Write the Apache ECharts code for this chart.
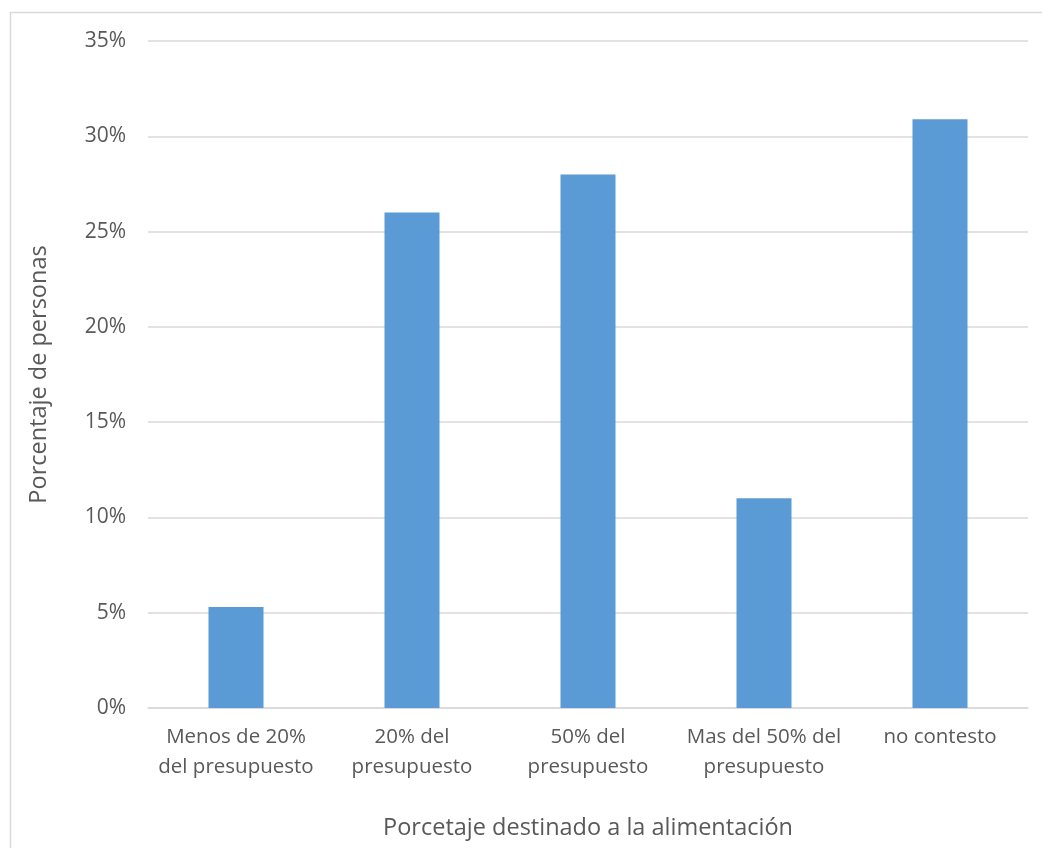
<!DOCTYPE html>
<html>
<head>
<meta charset="utf-8">
<script src="https://cdn.jsdelivr.net/npm/echarts@6/dist/echarts.min.js"></script>
<style>
  html, body { margin: 0; padding: 0; background: #fff; }
  #chart { width: 1042px; height: 848px; }
</style>
</head>
<body>
<div id="chart"></div>
<script>
// Share of respondents by portion of budget spent on food
const categories = [
  'Menos de 20%\ndel presupuesto',
  '20% del\npresupuesto',
  '50% del\npresupuesto',
  'Mas del 50% del\npresupuesto',
  'no contesto'
];
const shares = [5.3, 26.0, 28.0, 11.0, 30.9];
const yTicks = [0, 5, 10, 15, 20, 25, 30, 35];

const textColor = '#595959';
const fontFamily = '"Open Sans", "Liberation Sans", sans-serif';

const chart = echarts.init(document.getElementById('chart'), null, { renderer: 'canvas' });
chart.setOption({
  backgroundColor: '#ffffff',
  animation: false,
  graphic: [{
    type: 'rect',
    shape: { x: 10.5, y: 12.5, width: 1100, height: 900 },
    style: { fill: 'none', stroke: '#d9d9d9', lineWidth: 1.5 },
    silent: true
  }],
  grid: { left: 148, right: 14, top: 41, bottom: 140 },
  xAxis: {
    type: 'category',
    data: categories,
    name: 'Porcetaje destinado a la alimentación',
    nameLocation: 'middle',
    nameGap: 108,
    nameTextStyle: { color: textColor, fontSize: 23.5, fontFamily },
    axisLine: { show: true, lineStyle: { color: '#d9d9d9', width: 1.5 } },
    axisTick: { show: false },
    axisLabel: {
      color: textColor, fontSize: 20.5, fontFamily, lineHeight: 30, margin: 14,
      interval: 0, hideOverlap: false
    }
  },
  yAxis: {
    type: 'value',
    min: yTicks[0],
    max: yTicks[yTicks.length - 1],
    interval: 5,
    name: 'Porcentaje de personas',
    nameLocation: 'middle',
    nameGap: 97,
    nameTextStyle: { color: textColor, fontSize: 23.5, fontFamily },
    axisLine: { show: false },
    axisTick: { show: false },
    axisLabel: { color: textColor, fontSize: 21, fontFamily, margin: 22, formatter: v => v + '%' },
    splitLine: { lineStyle: { color: '#d9d9d9', width: 1.5 } }
  },
  series: [{
    type: 'bar',
    data: shares,
    barWidth: 55,
    itemStyle: { color: '#5b9bd5' }
  }]
});
</script>
</body>
</html>
